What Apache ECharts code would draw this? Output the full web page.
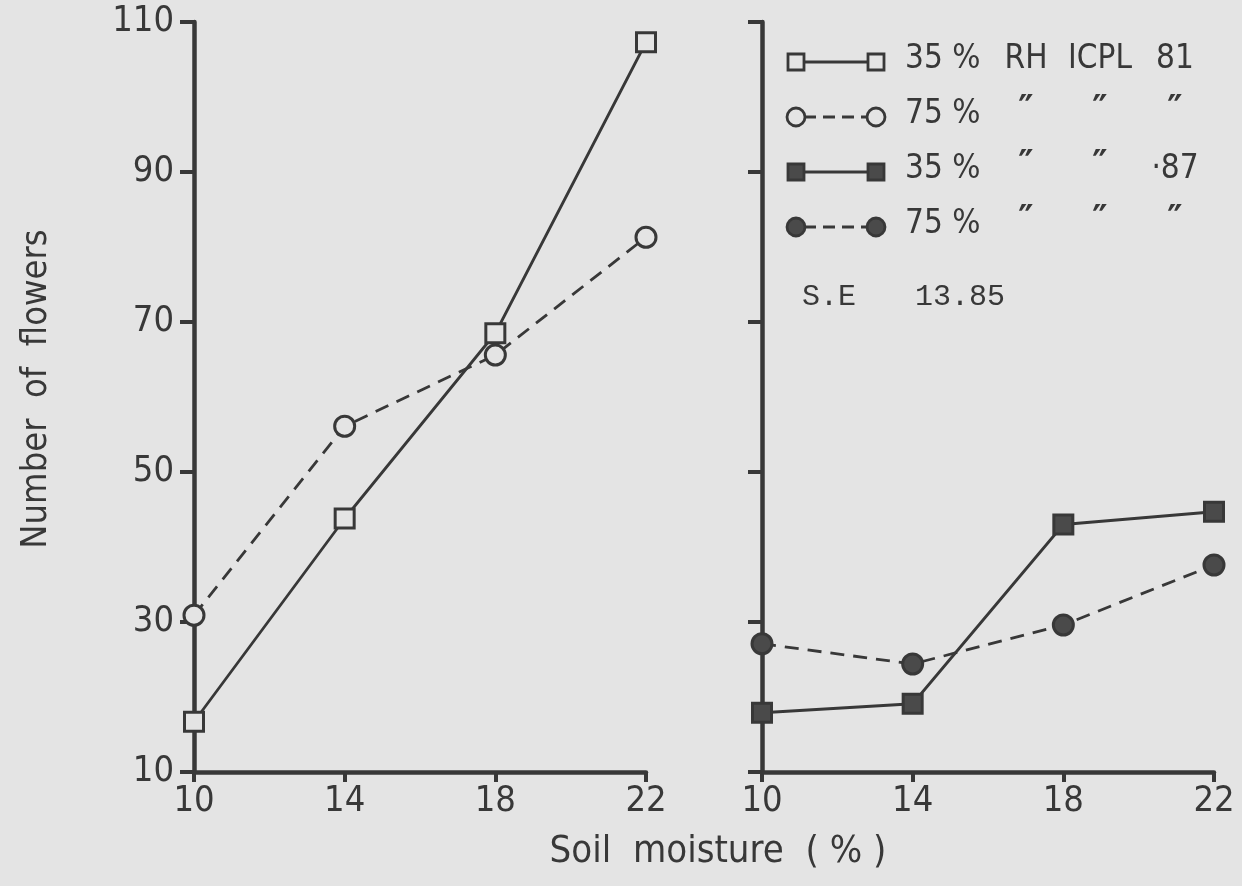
<!DOCTYPE html>
<html><head><meta charset="utf-8">
<script src="https://cdn.jsdelivr.net/npm/echarts@6/dist/echarts.min.js"></script>
<style>html,body{margin:0;padding:0;background:#e4e4e4}#c{width:1242px;height:886px}</style>
</head><body><div id="c"></div>
<script>
// ---- data ----
const moisture = [10, 14, 18, 22];
const xTickValues = [10, 14, 18, 22];
const yTickValues = [10, 30, 50, 70, 90, 110];
const icpl81RH35 = [16.7, 43.8, 68.5, 107.3];
const icpl81RH75 = [30.9, 56.1, 65.6, 81.3];
const icpl87RH35 = [17.9, 19.1, 43.0, 44.7];
const icpl87RH75 = [27.1, 24.4, 29.6, 37.6];
const legendRows = [
  ['35 %', 'RH', 'ICPL', '81'],
  ['75 %', '″', '″', '″'],
  ['35 %', '″', '″', '·87'],
  ['75 %', '″', '″', '″']
];
const seLabel = 'S.E';
const seValue = '13.85';
const xTitle = 'Soil  moisture  ( % )';
const yTitle = 'Number  of  flowers';

// ---- styles ----
const ink = '#383838';
const bg = '#e4e4e4';
const sansFont = "'Liberation Sans Narrow', 'DejaVu Sans Condensed', sans-serif";
const monoFont = "'Liberation Mono', 'DejaVu Sans Mono', monospace";

const styles = [
  { symbol: 'rect', fill: bg, dash: 'solid', grid: 0, data: icpl81RH35 },
  { symbol: 'circle', fill: bg, dash: [14, 9], grid: 0, data: icpl81RH75 },
  { symbol: 'rect', fill: '#4a4a4a', dash: 'solid', grid: 1, data: icpl87RH35 },
  { symbol: 'circle', fill: '#4a4a4a', dash: [14, 9], grid: 1, data: icpl87RH75 }
];
const names = legendRows.map(r => r.join(' '));

function xAxisCfg(g) {
  return {
    type: 'value', gridIndex: g, min: 10, max: 22, interval: 4,
    axisLine: { onZero: false, lineStyle: { color: ink, width: 4.5 } },
    axisTick: { show: true, inside: false, length: 10, lineStyle: { color: ink, width: 4 } },
    axisLabel: { color: ink, fontSize: 36, fontFamily: sansFont, margin: 12,
      customValues: xTickValues },
    splitLine: { show: false }
  };
}
function yAxisCfg(g, showLabel) {
  return {
    type: 'value', gridIndex: g, min: 10, max: 110, interval: 20,
    axisLine: { show: true, onZero: false, lineStyle: { color: ink, width: 4.5 } },
    axisTick: { show: true, inside: false, length: 14, lineStyle: { color: ink, width: 4 } },
    axisLabel: { show: showLabel, color: ink, fontSize: 36, fontFamily: sansFont, margin: 20 },
    splitLine: { show: false }
  };
}

const series = styles.map((s, i) => ({
  name: names[i], type: 'line', xAxisIndex: s.grid, yAxisIndex: s.grid,
  data: moisture.map((m, k) => [m, s.data[k]]),
  symbol: s.symbol, symbolSize: s.symbol === 'rect' ? 19 : 20,
  showAllSymbol: true,
  lineStyle: { color: ink, width: 2.8, type: s.dash },
  itemStyle: { color: s.fill, borderColor: ink, borderWidth: 3 },
  z: 3, animation: false
}));

// legend drawn as graphics
const graphics = [];
legendRows.forEach((row, i) => {
  const s = styles[i];
  const y = 62 + i * 55;
  const x1 = 796, x2 = 876;
  graphics.push({ type: 'line', shape: { x1: x1 + 8, y1: y, x2: x2 - 8, y2: y },
    style: { stroke: ink, lineWidth: 2.8, lineDash: s.dash === 'solid' ? null : [12, 7] } });
  [x1, x2].forEach(cx => {
    if (s.symbol === 'rect') {
      graphics.push({ type: 'rect', shape: { x: cx - 8, y: y - 8, width: 16, height: 16 },
        style: { fill: s.fill, stroke: ink, lineWidth: 2.8 } });
    } else {
      graphics.push({ type: 'circle', shape: { cx: cx, cy: y, r: 9 },
        style: { fill: s.fill, stroke: ink, lineWidth: 2.8 } });
    }
  });
  const colX = [905, 1026, 1100, 1175];
  row.forEach((t, j) => {
    const isQuote = t === '″';
    graphics.push({ type: 'text', x: colX[j], y: isQuote ? y - 6 : y - 3,
      style: { text: t, fill: ink, font: (isQuote ? 'bold 38px ' : '33px ') + sansFont,
        textAlign: j === 0 ? 'left' : 'center', textVerticalAlign: 'middle' } });
  });
});
graphics.push({ type: 'text', x: 802, y: 297,
  style: { text: seLabel, fill: ink, font: '30px ' + monoFont, textAlign: 'left', textVerticalAlign: 'middle' } });
graphics.push({ type: 'text', x: 915, y: 297,
  style: { text: seValue, fill: ink, font: '30px ' + monoFont, textAlign: 'left', textVerticalAlign: 'middle' } });
graphics.push({ type: 'text', x: 718, y: 852,
  style: { text: xTitle, fill: ink, font: '38px ' + sansFont, textAlign: 'center', textVerticalAlign: 'middle' } });
graphics.push({ type: 'text', x: 37, y: 389, rotation: Math.PI / 2,
  style: { text: yTitle, fill: ink, font: '36px ' + sansFont, textAlign: 'center', textVerticalAlign: 'middle' } });

const chart = echarts.init(document.getElementById('c'), null, { renderer: 'canvas' });
chart.setOption({
  backgroundColor: bg,
  animation: false,
  grid: [
    { left: 194, top: 22, width: 452, height: 750 },
    { left: 762, top: 22, width: 452, height: 750 }
  ],
  xAxis: [xAxisCfg(0), xAxisCfg(1)],
  yAxis: [yAxisCfg(0, true), yAxisCfg(1, false)],
  series: series,
  graphic: graphics
});
</script>
</body></html>
